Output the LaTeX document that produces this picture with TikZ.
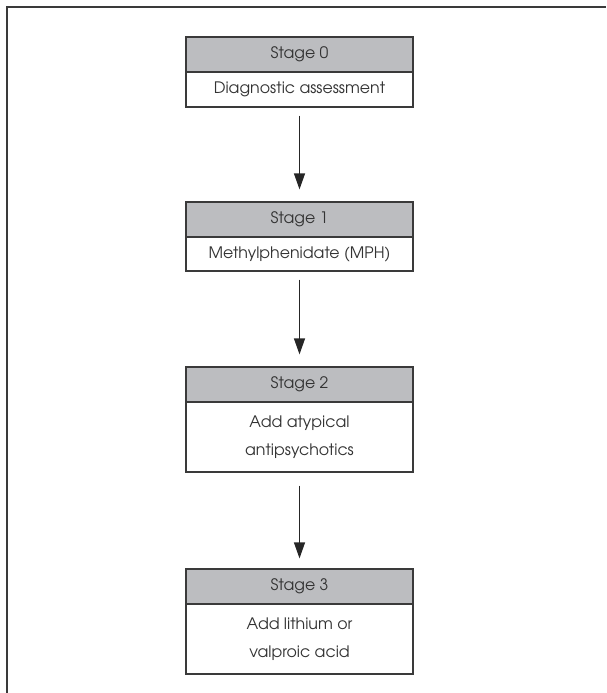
\documentclass[tikz,border=0pt]{standalone}
\usepackage{fontspec}
\setmainfont{texgyreadventor-regular.otf}
\usetikzlibrary{arrows.meta}
\definecolor{headfill}{HTML}{BCBDC0}
\definecolor{edge}{HTML}{3A3A3A}
\definecolor{ink}{HTML}{333333}
\begin{document}
\begin{tikzpicture}[x=1pt,y=-1pt,
  boxbase/.style={draw=edge,line width=1.2pt,rectangle,minimum width=227pt,
    inner sep=0pt,text=ink,align=center,font=\fontsize{15.8}{28}\selectfont},
  headbox/.style={boxbase,fill=headfill,minimum height=35pt},
  bodybox/.style={boxbase,fill=white},
  flow/.style={draw=black!85,line width=1.2pt,-{Triangle[length=16pt,width=11pt]},
    shorten <=8pt,shorten >=12pt}]
\useasboundingbox (0,0) rectangle (606,693);
% open frame: top and left rules
\coordinate (fa) at (7,693);
\coordinate (fb) at (7,7);
\coordinate (fc) at (606,7);
\draw[edge,line width=1.4pt] (fa) -- (fb) -- (fc);
% stages
\node[headbox] (s0h) at (299.5,54.5) {Stage 0};
\node[bodybox,minimum height=35pt] (s0b) at (299.5,89.5) {Diagnostic assessment};
\node[headbox] (s1h) at (299.5,219.5) {Stage 1};
\node[bodybox,minimum height=34pt] (s1b) at (299.5,254) {Methylphenidate (MPH)};
\node[headbox] (s2h) at (299.5,384.5) {Stage 2};
\node[bodybox,minimum height=70pt] (s2b) at (299.5,437) {Add atypical\\antipsychotics};
\node[headbox] (s3h) at (299.5,586.5) {Stage 3};
\node[bodybox,minimum height=70pt] (s3b) at (299.5,639) {Add lithium or\\valproic acid};
% arrows between stages
\draw[flow] (s0b) -- (s1h);
\draw[flow] (s1b) -- (s2h);
\draw[flow,shorten <=13pt,shorten >=10pt] (s2b) -- (s3h);
\end{tikzpicture}
\end{document}
